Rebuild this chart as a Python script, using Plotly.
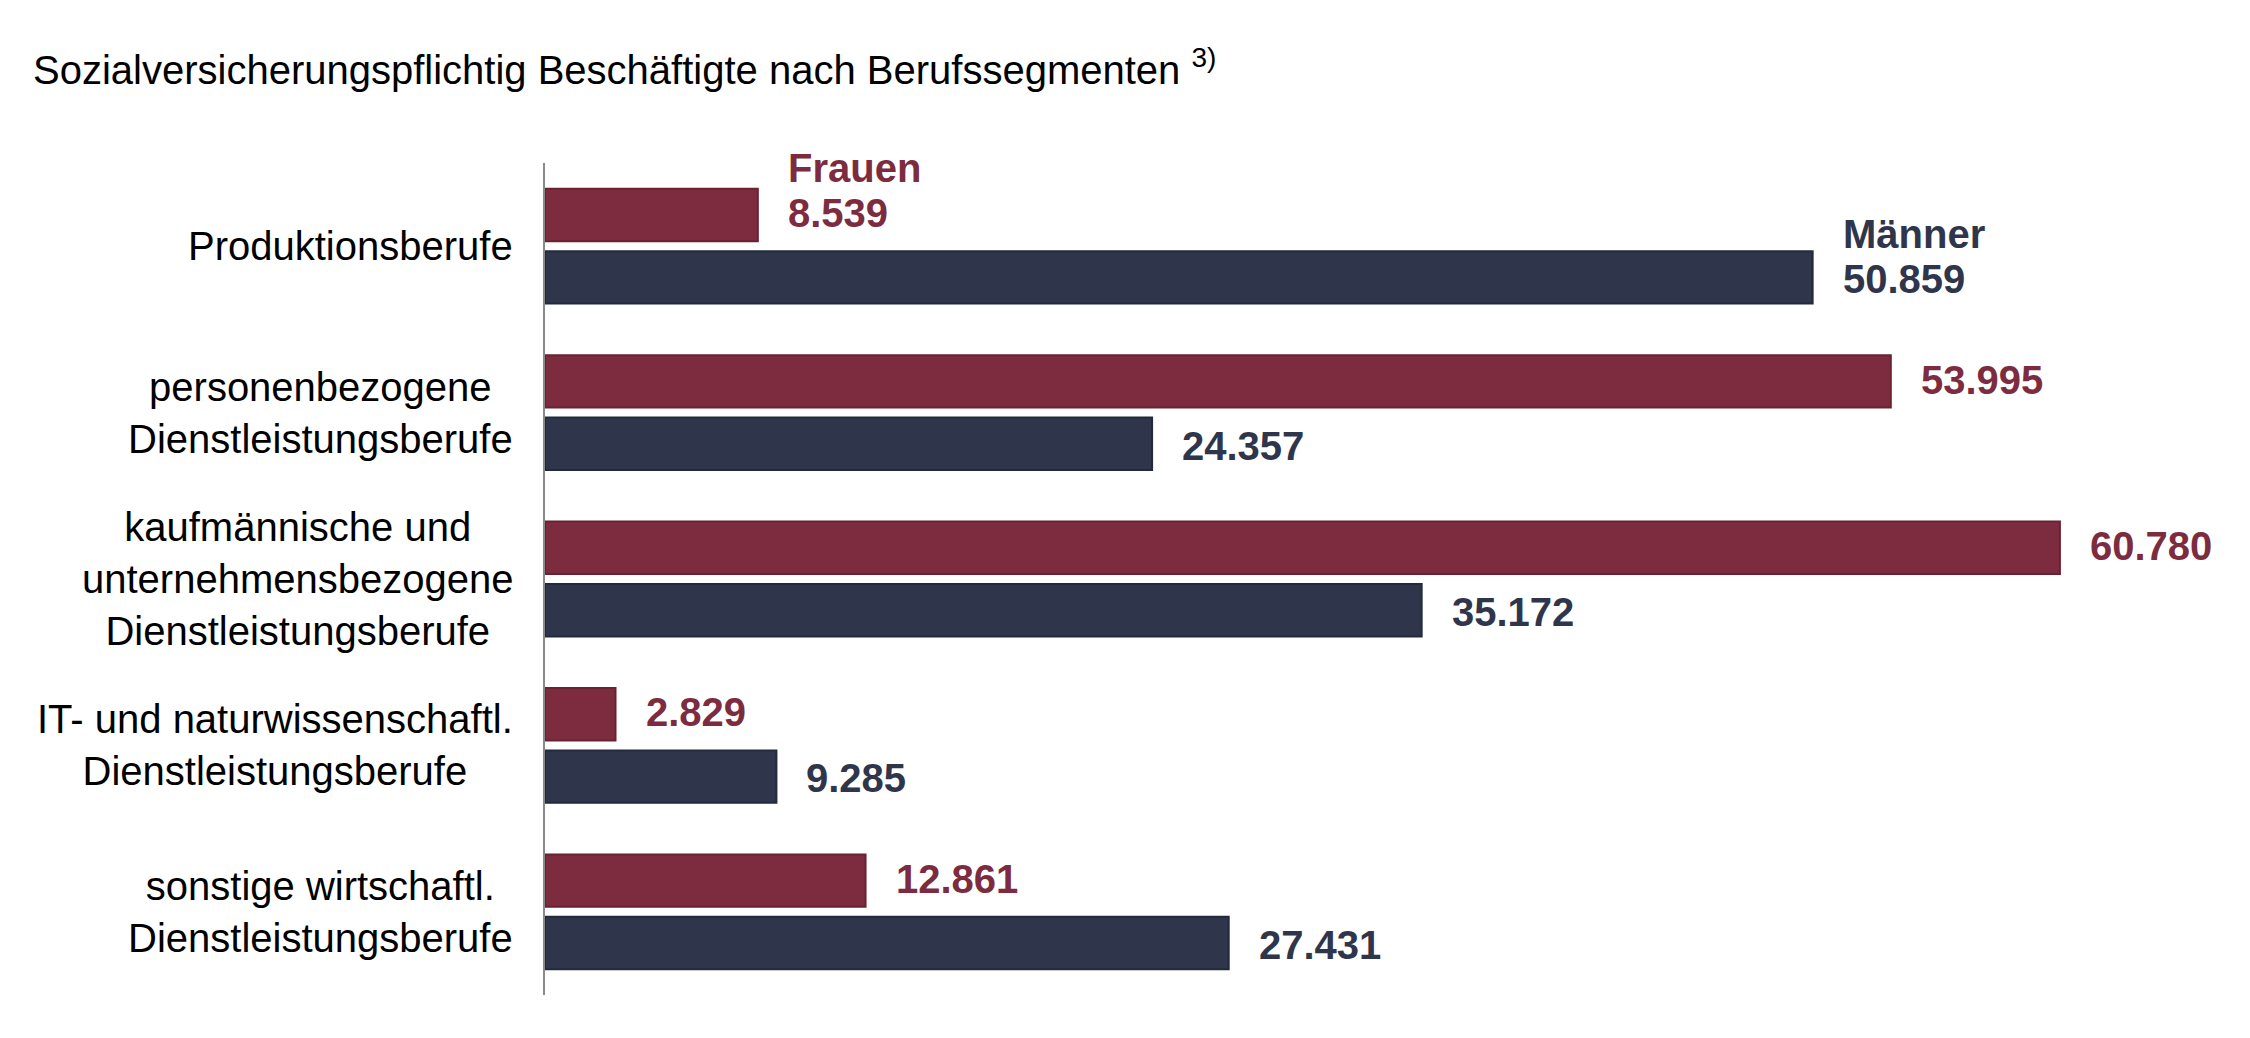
import plotly.graph_objects as go

# ---- data ----
categories = [
    "Produktionsberufe",
    "personenbezogene<br>Dienstleistungsberufe",
    "kaufmännische und<br>unternehmensbezogene<br>Dienstleistungsberufe",
    "IT- und naturwissenschaftl.<br>Dienstleistungsberufe",
    "sonstige wirtschaftl.<br>Dienstleistungsberufe",
]
frauen = [8539, 53995, 60780, 2829, 12861]
maenner = [50859, 24357, 35172, 9285, 27431]
series_names = ["Frauen", "Männer"]
title_text = "Sozialversicherungspflichtig Beschäftigte nach Berufssegmenten"
footnote = "3)"

# ---- style ----
C_F = "#7D2C3F"
C_M = "#2F364B"
FONT = "Liberation Sans, Arial, sans-serif"
W, H = 2234, 1022          # page has 8px body margin
ML, MR, MT, MB = 537, 47, 155, 35
BAR_OFFSET = 33   # px from category centre to bar centre
LABEL_GAP = 28    # px from bar end to value label


def fmt(v):
    return f"{v:,}".replace(",", ".")


fig = go.Figure()
fig.add_trace(go.Bar(
    y=categories, x=frauen, orientation="h", name=series_names[0],
    marker=dict(color=C_F, line=dict(color="#6A2233", width=2)),
    hoverinfo="skip",
))
fig.add_trace(go.Bar(
    y=categories, x=maenner, orientation="h", name=series_names[1],
    marker=dict(color=C_M, line=dict(color="#222A3B", width=2)),
    hoverinfo="skip",
))

annotations = []
# value labels
for i, cat in enumerate(categories):
    for vals, col, dy in ((frauen, C_F, BAR_OFFSET), (maenner, C_M, -BAR_OFFSET)):
        annotations.append(dict(
            x=vals[i], y=cat, xref="x", yref="y",
            text=fmt(vals[i]), showarrow=False,
            xanchor="left", yanchor="middle",
            xshift=LABEL_GAP, yshift=dy,
            font=dict(family=FONT, size=40, color=col, weight="bold"),
        ))
# series name labels on first category
for vals, col, dy, nm in ((frauen, C_F, BAR_OFFSET, series_names[0]),
                          (maenner, C_M, -BAR_OFFSET, series_names[1])):
    annotations.append(dict(
        x=vals[0], y=categories[0], xref="x", yref="y",
        text=nm, showarrow=False,
        xanchor="left", yanchor="middle",
        xshift=LABEL_GAP, yshift=dy + 45,
        font=dict(family=FONT, size=40, color=col, weight="bold"),
    ))
# category labels (centered multi-line)
for cat in categories:
    annotations.append(dict(
        x=0, y=cat, xref="x", yref="y",
        text=cat, showarrow=False, align="center",
        xanchor="right", yanchor="middle", xshift=-30,
        font=dict(family=FONT, size=40, color="#000000"),
    ))

fig.update_layout(
    width=W, height=H,
    margin=dict(l=ML, r=MR, t=MT, b=MB),
    paper_bgcolor="white", plot_bgcolor="white",
    barmode="group", bargap=0.25, bargroupgap=0.16,
    showlegend=False,
    title=dict(
        text=f"{title_text} <sup>{footnote}</sup>",
        x=25 / W, xref="container", xanchor="left",
        y=1 - 62 / H, yref="container", yanchor="middle",
        font=dict(family=FONT, size=40, color="#000000"),
    ),
    annotations=annotations,
)
fig.update_xaxes(range=[0, 66200], showgrid=False, zeroline=False,
                 showticklabels=False, showline=False, ticks="")
fig.update_yaxes(autorange="reversed", showgrid=False, zeroline=False,
                 showticklabels=False, showline=True, linecolor="#8A8A8A",
                 linewidth=2, ticks="")

fig.write_html("out.html")
